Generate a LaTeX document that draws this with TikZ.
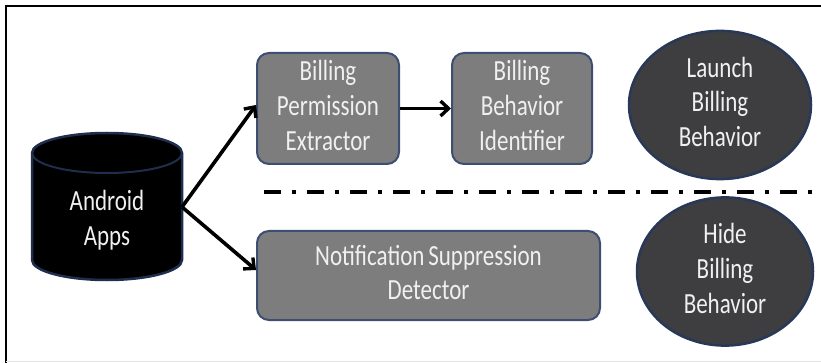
\documentclass[tikz,border=0pt]{standalone}
\usepackage{fontspec}
\setmainfont{Carlito}
\usetikzlibrary{shapes.geometric,arrows.meta}
\definecolor{boxgray}{RGB}{125,125,125}
\definecolor{boxedge}{RGB}{62,78,112}
\definecolor{ovalfill}{RGB}{62,62,64}
\definecolor{ovaledge}{RGB}{40,56,88}
\definecolor{cyledge}{RGB}{32,46,78}
\definecolor{txt}{RGB}{240,240,240}
\newcommand\lbl[1]{\scalebox{1}[1.27]{\fontsize{23}{27.5}\selectfont\renewcommand\arraystretch{1}\begin{tabular}{@{}c@{}}#1\end{tabular}}}
\tikzset{
  procbox/.style={draw=boxedge, line width=2pt, fill=boxgray, rounded corners=12pt, text=txt, inner sep=0pt},
  oval/.style={ellipse, draw=ovaledge, line width=2.5pt, fill=ovalfill, text=txt, inner sep=0pt},
  conn/.style={line width=3.6pt, -{Straight Barb[length=8pt,width=15pt,line width=3.4pt]}}
}
\begin{document}
\begin{tikzpicture}[x=1pt,y=-1pt]
\useasboundingbox (0,0) rectangle (821,363);
% frame
\draw[line width=2pt] (6,363) -- (6,6) -- (821,6);
\draw[line width=1pt, black!10] (6,361) -- (821,361);
% cylinder
\draw[draw=cyledge, line width=2.5pt, fill=black]
  (32,153) -- (32,260) arc[start angle=180, end angle=0, x radius=75, y radius=20]
  -- (182,153) arc[start angle=0, end angle=-180, x radius=75, y radius=20] -- cycle;
\draw[draw=cyledge, line width=2pt] (32,153) arc[start angle=180, end angle=0, x radius=75, y radius=20];
\node[text=txt, inner sep=0pt] (apps) at (107,221) {\lbl{Android\\Apps}};
\coordinate (src) at (182,207);
% boxes
\node[procbox, minimum width=142pt, minimum height=111pt] (bpe) at (328,108.5) {\lbl{Billing\\Permission\\Extractor}};
\node[procbox, minimum width=140pt, minimum height=111pt] (bbi) at (522,108.5) {\lbl{Billing\\Behavior\\Identifier}};
\node[procbox, minimum width=343pt, minimum height=89pt] (nsd) at (428.5,275.5) {\lbl{Notification\,Suppression\\Detector}};
% ovals
\node[oval, minimum width=182pt, minimum height=104pt] (launch) at (720,105) {\lbl{Launch\\Billing\\Behavior}};
\node[oval, minimum width=176pt, minimum height=117pt] (hide) at (725,271.5) {\lbl{Hide\\Billing\\Behavior}};
% connectors
\draw[conn] (src) -- (bpe.west |- 0,105);
\draw[conn] (src) -- (nsd.west |- 0,270);
\draw[conn] (bpe.east) -- (bbi.west);
% separator
\coordinate (sepL) at (264,192);
\coordinate (sepR) at (812,192);
\draw[line width=4pt, dash pattern=on 17pt off 11pt on 4pt off 11pt] (sepL) -- (sepR);
\end{tikzpicture}
\end{document}
